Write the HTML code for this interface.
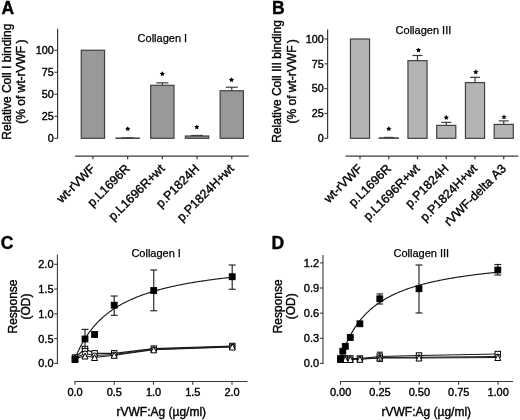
<!DOCTYPE html>
<html><head><meta charset="utf-8"><style>
html,body{margin:0;padding:0;background:#fff;}
svg{display:block;filter:blur(0.3px);font-family:"Liberation Sans",sans-serif;}
text{stroke:#000;stroke-width:0.38px;font-kerning:none;}
</style></head><body>
<svg width="520" height="420" viewBox="0 0 520 420">
<rect width="520" height="420" fill="#fff"/>
<text x="1.60" y="14.00" font-size="17.5" font-weight="bold">A</text>
<text x="271.90" y="14.00" font-size="17.5" font-weight="bold">B</text>
<text x="0.80" y="249.20" font-size="17.5" font-weight="bold">C</text>
<text x="271.60" y="249.20" font-size="17.5" font-weight="bold">D</text>
<line x1="57.60" y1="28.75" x2="57.60" y2="138.60" stroke="#3a3a3a" stroke-width="1.2"/>
<line x1="54.40" y1="138.30" x2="57.60" y2="138.30" stroke="#3a3a3a" stroke-width="1.1"/>
<text x="53.70" y="142.05" font-size="10.75" text-anchor="end">0</text>
<line x1="54.40" y1="116.29" x2="57.60" y2="116.29" stroke="#3a3a3a" stroke-width="1.1"/>
<text x="53.70" y="120.04" font-size="10.75" text-anchor="end">25</text>
<line x1="54.40" y1="94.28" x2="57.60" y2="94.28" stroke="#3a3a3a" stroke-width="1.1"/>
<text x="53.70" y="98.03" font-size="10.75" text-anchor="end">50</text>
<line x1="54.40" y1="72.26" x2="57.60" y2="72.26" stroke="#3a3a3a" stroke-width="1.1"/>
<text x="53.70" y="76.01" font-size="10.75" text-anchor="end">75</text>
<line x1="54.40" y1="50.25" x2="57.60" y2="50.25" stroke="#3a3a3a" stroke-width="1.1"/>
<text x="53.70" y="54.00" font-size="10.75" text-anchor="end">100</text>
<rect x="81.25" y="50.25" width="23.30" height="88.05" fill="#999999" stroke="#404040" stroke-width="1.2"/>
<line x1="127.62" y1="137.77" x2="127.62" y2="138.04" stroke="#3a3a3a" stroke-width="1.2"/>
<line x1="121.62" y1="137.77" x2="133.62" y2="137.77" stroke="#3a3a3a" stroke-width="1.2"/>
<rect x="115.97" y="138.04" width="23.30" height="0.30" fill="#999999" stroke="#404040" stroke-width="1.2"/>
<line x1="162.34" y1="82.83" x2="162.34" y2="85.29" stroke="#3a3a3a" stroke-width="1.2"/>
<line x1="156.34" y1="82.83" x2="168.34" y2="82.83" stroke="#3a3a3a" stroke-width="1.2"/>
<rect x="150.69" y="85.29" width="23.30" height="53.01" fill="#999999" stroke="#404040" stroke-width="1.2"/>
<line x1="197.06" y1="135.48" x2="197.06" y2="136.01" stroke="#3a3a3a" stroke-width="1.2"/>
<line x1="191.06" y1="135.48" x2="203.06" y2="135.48" stroke="#3a3a3a" stroke-width="1.2"/>
<rect x="185.41" y="136.01" width="23.30" height="2.29" fill="#999999" stroke="#404040" stroke-width="1.2"/>
<line x1="231.78" y1="87.23" x2="231.78" y2="90.75" stroke="#3a3a3a" stroke-width="1.2"/>
<line x1="225.78" y1="87.23" x2="237.78" y2="87.23" stroke="#3a3a3a" stroke-width="1.2"/>
<rect x="220.13" y="90.75" width="23.30" height="47.55" fill="#999999" stroke="#404040" stroke-width="1.2"/>
<polygon points="127.75,126.15 128.56,127.79 130.37,128.05 129.06,129.32 129.37,131.12 127.75,130.28 126.13,131.12 126.44,129.32 125.13,128.05 126.94,127.79" fill="#000"/>
<polygon points="162.30,71.15 163.11,72.79 164.92,73.05 163.61,74.32 163.92,76.12 162.30,75.28 160.68,76.12 160.99,74.32 159.68,73.05 161.49,72.79" fill="#000"/>
<polygon points="196.80,124.45 197.61,126.09 199.42,126.35 198.11,127.62 198.42,129.42 196.80,128.57 195.18,129.42 195.49,127.62 194.18,126.35 195.99,126.09" fill="#000"/>
<polygon points="231.50,77.15 232.31,78.79 234.12,79.05 232.81,80.32 233.12,82.12 231.50,81.28 229.88,82.12 230.19,80.32 228.88,79.05 230.69,78.79" fill="#000"/>
<line x1="75.00" y1="156.10" x2="248.70" y2="156.10" stroke="#3a3a3a" stroke-width="1.2"/>
<line x1="92.90" y1="156.10" x2="92.90" y2="159.30" stroke="#3a3a3a" stroke-width="1.2"/>
<text transform="translate(95.90,169.40) rotate(-45)" font-size="12.4" text-anchor="end">wt-rVWF</text>
<line x1="127.62" y1="156.10" x2="127.62" y2="159.30" stroke="#3a3a3a" stroke-width="1.2"/>
<text transform="translate(130.62,169.40) rotate(-45)" font-size="12.4" text-anchor="end">p.L1696R</text>
<line x1="162.34" y1="156.10" x2="162.34" y2="159.30" stroke="#3a3a3a" stroke-width="1.2"/>
<text transform="translate(165.34,169.40) rotate(-45)" font-size="12.4" text-anchor="end">p.L1696R+wt</text>
<line x1="197.06" y1="156.10" x2="197.06" y2="159.30" stroke="#3a3a3a" stroke-width="1.2"/>
<text transform="translate(200.06,169.40) rotate(-45)" font-size="12.4" text-anchor="end">p.P1824H</text>
<line x1="231.78" y1="156.10" x2="231.78" y2="159.30" stroke="#3a3a3a" stroke-width="1.2"/>
<text transform="translate(234.78,169.40) rotate(-45)" font-size="12.4" text-anchor="end">p.P1824H+wt</text>
<text transform="translate(10.80,81.70) rotate(-90)" font-size="12" text-anchor="middle">Relative Coll I binding</text>
<text transform="translate(25.40,81.70) rotate(-90)" font-size="12" text-anchor="middle">(% of wt-rVWF<tspan dx="2.2">)</tspan></text>
<text x="137.60" y="41.60" font-size="11" style="stroke-width:0.25px">Collagen I</text>
<line x1="327.60" y1="29.50" x2="327.60" y2="138.60" stroke="#3a3a3a" stroke-width="1.2"/>
<line x1="324.40" y1="138.30" x2="327.60" y2="138.30" stroke="#3a3a3a" stroke-width="1.1"/>
<text x="323.70" y="142.05" font-size="10.75" text-anchor="end">0</text>
<line x1="324.40" y1="113.48" x2="327.60" y2="113.48" stroke="#3a3a3a" stroke-width="1.1"/>
<text x="323.70" y="117.23" font-size="10.75" text-anchor="end">25</text>
<line x1="324.40" y1="88.65" x2="327.60" y2="88.65" stroke="#3a3a3a" stroke-width="1.1"/>
<text x="323.70" y="92.40" font-size="10.75" text-anchor="end">50</text>
<line x1="324.40" y1="63.83" x2="327.60" y2="63.83" stroke="#3a3a3a" stroke-width="1.1"/>
<text x="323.70" y="67.58" font-size="10.75" text-anchor="end">75</text>
<line x1="324.40" y1="39.00" x2="327.60" y2="39.00" stroke="#3a3a3a" stroke-width="1.1"/>
<text x="323.70" y="42.75" font-size="10.75" text-anchor="end">100</text>
<rect x="350.45" y="39.00" width="19.10" height="99.30" fill="#b4b4b4" stroke="#404040" stroke-width="1.2"/>
<line x1="388.75" y1="137.41" x2="388.75" y2="137.90" stroke="#3a3a3a" stroke-width="1.2"/>
<line x1="383.75" y1="137.41" x2="393.75" y2="137.41" stroke="#3a3a3a" stroke-width="1.2"/>
<rect x="379.20" y="137.90" width="19.10" height="0.40" fill="#b4b4b4" stroke="#404040" stroke-width="1.2"/>
<line x1="417.50" y1="55.48" x2="417.50" y2="60.65" stroke="#3a3a3a" stroke-width="1.2"/>
<line x1="412.50" y1="55.48" x2="422.50" y2="55.48" stroke="#3a3a3a" stroke-width="1.2"/>
<rect x="407.95" y="60.65" width="19.10" height="77.65" fill="#b4b4b4" stroke="#404040" stroke-width="1.2"/>
<line x1="446.25" y1="122.41" x2="446.25" y2="125.39" stroke="#3a3a3a" stroke-width="1.2"/>
<line x1="441.25" y1="122.41" x2="451.25" y2="122.41" stroke="#3a3a3a" stroke-width="1.2"/>
<rect x="436.70" y="125.39" width="19.10" height="12.91" fill="#b4b4b4" stroke="#404040" stroke-width="1.2"/>
<line x1="475.00" y1="77.33" x2="475.00" y2="82.59" stroke="#3a3a3a" stroke-width="1.2"/>
<line x1="470.00" y1="77.33" x2="480.00" y2="77.33" stroke="#3a3a3a" stroke-width="1.2"/>
<rect x="465.45" y="82.59" width="19.10" height="55.71" fill="#b4b4b4" stroke="#404040" stroke-width="1.2"/>
<line x1="503.75" y1="120.92" x2="503.75" y2="124.40" stroke="#3a3a3a" stroke-width="1.2"/>
<line x1="498.75" y1="120.92" x2="508.75" y2="120.92" stroke="#3a3a3a" stroke-width="1.2"/>
<rect x="494.20" y="124.40" width="19.10" height="13.90" fill="#b4b4b4" stroke="#404040" stroke-width="1.2"/>
<polygon points="388.80,126.15 389.61,127.79 391.42,128.05 390.11,129.32 390.42,131.12 388.80,130.28 387.18,131.12 387.49,129.32 386.18,128.05 387.99,127.79" fill="#000"/>
<polygon points="418.50,47.45 419.31,49.09 421.12,49.35 419.81,50.62 420.12,52.42 418.50,51.58 416.88,52.42 417.19,50.62 415.88,49.35 417.69,49.09" fill="#000"/>
<polygon points="446.30,114.85 447.11,116.49 448.92,116.75 447.61,118.02 447.92,119.82 446.30,118.97 444.68,119.82 444.99,118.02 443.68,116.75 445.49,116.49" fill="#000"/>
<polygon points="475.80,69.25 476.61,70.89 478.42,71.15 477.11,72.42 477.42,74.22 475.80,73.38 474.18,74.22 474.49,72.42 473.18,71.15 474.99,70.89" fill="#000"/>
<polygon points="504.00,114.25 504.81,115.89 506.62,116.15 505.31,117.42 505.62,119.22 504.00,118.38 502.38,119.22 502.69,117.42 501.38,116.15 503.19,115.89" fill="#000"/>
<line x1="345.60" y1="156.10" x2="518.20" y2="156.10" stroke="#3a3a3a" stroke-width="1.2"/>
<line x1="360.00" y1="156.10" x2="360.00" y2="159.30" stroke="#3a3a3a" stroke-width="1.2"/>
<text transform="translate(363.00,169.40) rotate(-45)" font-size="12.4" text-anchor="end">wt-rVWF</text>
<line x1="388.75" y1="156.10" x2="388.75" y2="159.30" stroke="#3a3a3a" stroke-width="1.2"/>
<text transform="translate(391.75,169.40) rotate(-45)" font-size="12.4" text-anchor="end">p.L1696R</text>
<line x1="417.50" y1="156.10" x2="417.50" y2="159.30" stroke="#3a3a3a" stroke-width="1.2"/>
<text transform="translate(420.50,169.40) rotate(-45)" font-size="12.4" text-anchor="end">p.L1696R+wt</text>
<line x1="446.25" y1="156.10" x2="446.25" y2="159.30" stroke="#3a3a3a" stroke-width="1.2"/>
<text transform="translate(449.25,169.40) rotate(-45)" font-size="12.4" text-anchor="end">p.P1824H</text>
<line x1="475.00" y1="156.10" x2="475.00" y2="159.30" stroke="#3a3a3a" stroke-width="1.2"/>
<text transform="translate(478.00,169.40) rotate(-45)" font-size="12.4" text-anchor="end">p.P1824H+wt</text>
<line x1="503.75" y1="156.10" x2="503.75" y2="159.30" stroke="#3a3a3a" stroke-width="1.2"/>
<text transform="translate(506.75,169.40) rotate(-45)" font-size="12.4" text-anchor="end">rVWF-delta A3</text>
<text transform="translate(281.00,81.40) rotate(-90)" font-size="12" text-anchor="middle">Relative Coll III binding</text>
<text transform="translate(295.60,81.40) rotate(-90)" font-size="12" text-anchor="middle">(% of wt-rVWF<tspan dx="2.2">)</tspan></text>
<text x="395.60" y="33.60" font-size="11" style="stroke-width:0.25px">Collagen III</text>
<line x1="57.40" y1="254.60" x2="57.40" y2="363.90" stroke="#3a3a3a" stroke-width="1.1"/>
<line x1="54.20" y1="363.40" x2="57.40" y2="363.40" stroke="#3a3a3a" stroke-width="1.1"/>
<text x="53.50" y="367.30" font-size="11" text-anchor="end">0.0</text>
<line x1="54.20" y1="338.62" x2="57.40" y2="338.62" stroke="#3a3a3a" stroke-width="1.1"/>
<text x="53.50" y="342.52" font-size="11" text-anchor="end">0.5</text>
<line x1="54.20" y1="313.85" x2="57.40" y2="313.85" stroke="#3a3a3a" stroke-width="1.1"/>
<text x="53.50" y="317.75" font-size="11" text-anchor="end">1.0</text>
<line x1="54.20" y1="289.07" x2="57.40" y2="289.07" stroke="#3a3a3a" stroke-width="1.1"/>
<text x="53.50" y="292.97" font-size="11" text-anchor="end">1.5</text>
<line x1="54.20" y1="264.30" x2="57.40" y2="264.30" stroke="#3a3a3a" stroke-width="1.1"/>
<text x="53.50" y="268.20" font-size="11" text-anchor="end">2.0</text>
<line x1="74.50" y1="381.50" x2="247.50" y2="381.50" stroke="#3a3a3a" stroke-width="1.1"/>
<line x1="75.00" y1="381.50" x2="75.00" y2="384.70" stroke="#3a3a3a" stroke-width="1.1"/>
<text x="75.10" y="395.50" font-size="11" text-anchor="middle">0.0</text>
<line x1="114.25" y1="381.50" x2="114.25" y2="384.70" stroke="#3a3a3a" stroke-width="1.1"/>
<text x="114.35" y="395.50" font-size="11" text-anchor="middle">0.5</text>
<line x1="153.50" y1="381.50" x2="153.50" y2="384.70" stroke="#3a3a3a" stroke-width="1.1"/>
<text x="153.60" y="395.50" font-size="11" text-anchor="middle">1.0</text>
<line x1="192.75" y1="381.50" x2="192.75" y2="384.70" stroke="#3a3a3a" stroke-width="1.1"/>
<text x="192.85" y="395.50" font-size="11" text-anchor="middle">1.5</text>
<line x1="232.00" y1="381.50" x2="232.00" y2="384.70" stroke="#3a3a3a" stroke-width="1.1"/>
<text x="232.10" y="395.50" font-size="11" text-anchor="middle">2.0</text>
<text x="131.40" y="257.00" font-size="11" style="stroke-width:0.25px">Collagen I</text>
<text transform="translate(16.50,306.50) rotate(-90)" font-size="12" text-anchor="middle">Response</text>
<text transform="translate(30.40,306.50) rotate(-90)" font-size="12" text-anchor="middle">(OD)</text>
<text x="116.50" y="415.80" font-size="12">rVWF:Ag (&#181;g/ml)</text>
<polyline points="75.00,358.54 75.79,356.63 76.58,354.79 77.37,353.01 78.16,351.30 78.94,349.65 79.73,348.05 80.52,346.51 81.31,345.02 82.10,343.58 82.89,342.18 83.68,340.82 84.47,339.51 85.26,338.24 86.05,337.00 86.83,335.80 87.62,334.64 88.41,333.51 89.20,332.41 89.99,331.34 90.78,330.30 91.57,329.29 92.36,328.31 93.15,327.35 93.93,326.42 94.72,325.51 95.51,324.62 96.30,323.76 97.09,322.92 97.88,322.10 98.67,321.29 99.46,320.51 100.25,319.75 101.04,319.00 101.82,318.27 102.61,317.56 103.40,316.86 104.19,316.18 104.98,315.51 105.77,314.86 106.56,314.22 107.35,313.60 108.14,312.99 108.92,312.39 109.71,311.80 110.50,311.23 111.29,310.67 112.08,310.12 112.87,309.58 113.66,309.05 114.45,308.53 115.24,308.02 116.03,307.52 116.81,307.03 117.60,306.55 118.39,306.07 119.18,305.61 119.97,305.16 120.76,304.71 121.55,304.27 122.34,303.84 123.13,303.41 123.91,303.00 124.70,302.59 125.49,302.19 126.28,301.79 127.07,301.40 127.86,301.02 128.65,300.65 129.44,300.28 130.23,299.91 131.02,299.56 131.80,299.20 132.59,298.86 133.38,298.52 134.17,298.18 134.96,297.85 135.75,297.52 136.54,297.20 137.33,296.89 138.12,296.58 138.90,296.27 139.69,295.97 140.48,295.67 141.27,295.38 142.06,295.09 142.85,294.81 143.64,294.53 144.43,294.25 145.22,293.98 146.01,293.71 146.79,293.44 147.58,293.18 148.37,292.93 149.16,292.67 149.95,292.42 150.74,292.17 151.53,291.93 152.32,291.69 153.11,291.45 153.89,291.22 154.68,290.99 155.47,290.76 156.26,290.53 157.05,290.31 157.84,290.09 158.63,289.87 159.42,289.66 160.21,289.45 160.99,289.24 161.78,289.03 162.57,288.83 163.36,288.62 164.15,288.42 164.94,288.23 165.73,288.03 166.52,287.84 167.31,287.65 168.10,287.46 168.88,287.28 169.67,287.10 170.46,286.91 171.25,286.74 172.04,286.56 172.83,286.38 173.62,286.21 174.41,286.04 175.20,285.87 175.98,285.70 176.77,285.54 177.56,285.37 178.35,285.21 179.14,285.05 179.93,284.89 180.72,284.74 181.51,284.58 182.30,284.43 183.09,284.27 183.87,284.12 184.66,283.98 185.45,283.83 186.24,283.68 187.03,283.54 187.82,283.40 188.61,283.26 189.40,283.12 190.19,282.98 190.97,282.84 191.76,282.70 192.55,282.57 193.34,282.44 194.13,282.31 194.92,282.17 195.71,282.05 196.50,281.92 197.29,281.79 198.08,281.67 198.86,281.54 199.65,281.42 200.44,281.30 201.23,281.18 202.02,281.06 202.81,280.94 203.60,280.82 204.39,280.70 205.18,280.59 205.96,280.47 206.75,280.36 207.54,280.25 208.33,280.14 209.12,280.03 209.91,279.92 210.70,279.81 211.49,279.70 212.28,279.60 213.07,279.49 213.85,279.39 214.64,279.28 215.43,279.18 216.22,279.08 217.01,278.98 217.80,278.88 218.59,278.78 219.38,278.68 220.17,278.58 220.95,278.49 221.74,278.39 222.53,278.30 223.32,278.20 224.11,278.11 224.90,278.02 225.69,277.92 226.48,277.83 227.27,277.74 228.06,277.65 228.84,277.56 229.63,277.47 230.42,277.39 231.21,277.30 232.00,277.21" fill="none" stroke="#1a1a1a" stroke-width="1.15"/>
<polyline points="75.00,357.50 85.00,349.00 94.60,353.30 114.20,353.30 153.75,348.60 232.30,346.00" fill="none" stroke="#1a1a1a" stroke-width="1.15"/>
<polyline points="75.00,358.00 85.00,353.50 94.60,355.50 114.20,354.50 153.75,349.30 232.30,346.60" fill="none" stroke="#1a1a1a" stroke-width="1.15"/>
<polyline points="75.00,358.50 85.00,356.00 94.60,357.50 114.20,355.30 153.75,349.80 232.30,347.00" fill="none" stroke="#1a1a1a" stroke-width="1.15"/>
<rect x="72.30" y="354.80" width="5.40" height="5.40" fill="white" stroke="#000" stroke-width="1"/>
<rect x="82.30" y="346.30" width="5.40" height="5.40" fill="white" stroke="#000" stroke-width="1"/>
<rect x="91.90" y="350.60" width="5.40" height="5.40" fill="white" stroke="#000" stroke-width="1"/>
<rect x="111.50" y="350.60" width="5.40" height="5.40" fill="white" stroke="#000" stroke-width="1"/>
<rect x="151.05" y="345.90" width="5.40" height="5.40" fill="white" stroke="#000" stroke-width="1"/>
<rect x="229.60" y="343.30" width="5.40" height="5.40" fill="white" stroke="#000" stroke-width="1"/>
<circle cx="75.00" cy="358.00" r="2.5" fill="white" stroke="#000" stroke-width="1"/>
<circle cx="85.00" cy="353.50" r="2.5" fill="white" stroke="#000" stroke-width="1"/>
<circle cx="94.60" cy="355.50" r="2.5" fill="white" stroke="#000" stroke-width="1"/>
<circle cx="114.20" cy="354.50" r="2.5" fill="white" stroke="#000" stroke-width="1"/>
<circle cx="153.75" cy="349.30" r="2.5" fill="white" stroke="#000" stroke-width="1"/>
<circle cx="232.30" cy="346.60" r="2.5" fill="white" stroke="#000" stroke-width="1"/>
<polygon points="75.00,355.50 78.00,361.50 72.00,361.50" fill="white" stroke="#000" stroke-width="1"/>
<polygon points="85.00,353.00 88.00,359.00 82.00,359.00" fill="white" stroke="#000" stroke-width="1"/>
<polygon points="94.60,354.50 97.60,360.50 91.60,360.50" fill="white" stroke="#000" stroke-width="1"/>
<polygon points="114.20,352.30 117.20,358.30 111.20,358.30" fill="white" stroke="#000" stroke-width="1"/>
<polygon points="153.75,346.80 156.75,352.80 150.75,352.80" fill="white" stroke="#000" stroke-width="1"/>
<polygon points="232.30,344.00 235.30,350.00 229.30,350.00" fill="white" stroke="#000" stroke-width="1"/>
<line x1="85.00" y1="329.40" x2="85.00" y2="348.60" stroke="#222" stroke-width="1.15"/>
<line x1="81.50" y1="329.40" x2="88.50" y2="329.40" stroke="#222" stroke-width="1.15"/>
<line x1="81.50" y1="348.60" x2="88.50" y2="348.60" stroke="#222" stroke-width="1.15"/>
<line x1="114.20" y1="296.00" x2="114.20" y2="315.30" stroke="#222" stroke-width="1.15"/>
<line x1="110.70" y1="296.00" x2="117.70" y2="296.00" stroke="#222" stroke-width="1.15"/>
<line x1="110.70" y1="315.30" x2="117.70" y2="315.30" stroke="#222" stroke-width="1.15"/>
<line x1="153.75" y1="270.00" x2="153.75" y2="310.75" stroke="#222" stroke-width="1.15"/>
<line x1="150.25" y1="270.00" x2="157.25" y2="270.00" stroke="#222" stroke-width="1.15"/>
<line x1="150.25" y1="310.75" x2="157.25" y2="310.75" stroke="#222" stroke-width="1.15"/>
<line x1="232.20" y1="265.00" x2="232.20" y2="289.25" stroke="#222" stroke-width="1.15"/>
<line x1="228.70" y1="265.00" x2="235.70" y2="265.00" stroke="#222" stroke-width="1.15"/>
<line x1="228.70" y1="289.25" x2="235.70" y2="289.25" stroke="#222" stroke-width="1.15"/>
<rect x="72.10" y="356.70" width="5.80" height="5.80" fill="#000" stroke="#000" stroke-width="1"/>
<rect x="82.10" y="336.10" width="5.80" height="5.80" fill="#000" stroke="#000" stroke-width="1"/>
<rect x="91.70" y="331.60" width="5.80" height="5.80" fill="#000" stroke="#000" stroke-width="1"/>
<rect x="111.30" y="302.30" width="5.80" height="5.80" fill="#000" stroke="#000" stroke-width="1"/>
<rect x="150.85" y="287.60" width="5.80" height="5.80" fill="#000" stroke="#000" stroke-width="1"/>
<rect x="229.30" y="273.85" width="5.80" height="5.80" fill="#000" stroke="#000" stroke-width="1"/>
<line x1="323.00" y1="254.90" x2="323.00" y2="363.90" stroke="#3a3a3a" stroke-width="1.1"/>
<line x1="319.80" y1="363.40" x2="323.00" y2="363.40" stroke="#3a3a3a" stroke-width="1.1"/>
<text x="319.10" y="367.30" font-size="11" text-anchor="end">0.0</text>
<line x1="319.80" y1="338.27" x2="323.00" y2="338.27" stroke="#3a3a3a" stroke-width="1.1"/>
<text x="319.10" y="342.17" font-size="11" text-anchor="end">0.3</text>
<line x1="319.80" y1="313.15" x2="323.00" y2="313.15" stroke="#3a3a3a" stroke-width="1.1"/>
<text x="319.10" y="317.05" font-size="11" text-anchor="end">0.6</text>
<line x1="319.80" y1="288.02" x2="323.00" y2="288.02" stroke="#3a3a3a" stroke-width="1.1"/>
<text x="319.10" y="291.92" font-size="11" text-anchor="end">0.9</text>
<line x1="319.80" y1="262.90" x2="323.00" y2="262.90" stroke="#3a3a3a" stroke-width="1.1"/>
<text x="319.10" y="266.80" font-size="11" text-anchor="end">1.2</text>
<line x1="340.00" y1="381.50" x2="513.00" y2="381.50" stroke="#3a3a3a" stroke-width="1.1"/>
<line x1="340.50" y1="381.50" x2="340.50" y2="384.70" stroke="#3a3a3a" stroke-width="1.1"/>
<text x="340.60" y="395.50" font-size="11" text-anchor="middle">0.00</text>
<line x1="379.88" y1="381.50" x2="379.88" y2="384.70" stroke="#3a3a3a" stroke-width="1.1"/>
<text x="379.98" y="395.50" font-size="11" text-anchor="middle">0.25</text>
<line x1="419.25" y1="381.50" x2="419.25" y2="384.70" stroke="#3a3a3a" stroke-width="1.1"/>
<text x="419.35" y="395.50" font-size="11" text-anchor="middle">0.50</text>
<line x1="458.62" y1="381.50" x2="458.62" y2="384.70" stroke="#3a3a3a" stroke-width="1.1"/>
<text x="458.73" y="395.50" font-size="11" text-anchor="middle">0.75</text>
<line x1="498.00" y1="381.50" x2="498.00" y2="384.70" stroke="#3a3a3a" stroke-width="1.1"/>
<text x="498.10" y="395.50" font-size="11" text-anchor="middle">1.00</text>
<text x="393.50" y="257.00" font-size="11" style="stroke-width:0.25px">Collagen III</text>
<text transform="translate(282.30,306.30) rotate(-90)" font-size="12" text-anchor="middle">Response</text>
<text transform="translate(295.30,306.30) rotate(-90)" font-size="12" text-anchor="middle">(OD)</text>
<text x="381.50" y="415.80" font-size="12">rVWF:Ag (&#181;g/ml)</text>
<polyline points="340.50,359.36 341.29,356.93 342.08,354.60 342.87,352.38 343.67,350.25 344.46,348.22 345.25,346.26 346.04,344.39 346.83,342.59 347.62,340.86 348.41,339.20 349.21,337.59 350.00,336.05 350.79,334.56 351.58,333.13 352.37,331.75 353.16,330.41 353.95,329.12 354.75,327.87 355.54,326.66 356.33,325.49 357.12,324.35 357.91,323.26 358.70,322.19 359.49,321.16 360.29,320.16 361.08,319.19 361.87,318.24 362.66,317.32 363.45,316.43 364.24,315.56 365.04,314.72 365.83,313.90 366.62,313.10 367.41,312.32 368.20,311.56 368.99,310.82 369.78,310.10 370.58,309.40 371.37,308.72 372.16,308.05 372.95,307.40 373.74,306.76 374.53,306.14 375.32,305.53 376.12,304.93 376.91,304.35 377.70,303.79 378.49,303.23 379.28,302.69 380.07,302.16 380.86,301.64 381.66,301.13 382.45,300.63 383.24,300.14 384.03,299.67 384.82,299.20 385.61,298.74 386.40,298.29 387.20,297.85 387.99,297.42 388.78,296.99 389.57,296.58 390.36,296.17 391.15,295.77 391.94,295.38 392.74,294.99 393.53,294.62 394.32,294.24 395.11,293.88 395.90,293.52 396.69,293.17 397.48,292.82 398.28,292.48 399.07,292.15 399.86,291.82 400.65,291.50 401.44,291.18 402.23,290.87 403.03,290.56 403.82,290.26 404.61,289.96 405.40,289.67 406.19,289.38 406.98,289.10 407.77,288.82 408.57,288.55 409.36,288.28 410.15,288.01 410.94,287.75 411.73,287.49 412.52,287.24 413.31,286.99 414.11,286.74 414.90,286.50 415.69,286.26 416.48,286.02 417.27,285.79 418.06,285.56 418.85,285.34 419.65,285.11 420.44,284.89 421.23,284.68 422.02,284.46 422.81,284.25 423.60,284.05 424.39,283.84 425.19,283.64 425.98,283.44 426.77,283.24 427.56,283.05 428.35,282.85 429.14,282.67 429.93,282.48 430.73,282.29 431.52,282.11 432.31,281.93 433.10,281.75 433.89,281.58 434.68,281.40 435.47,281.23 436.27,281.06 437.06,280.90 437.85,280.73 438.64,280.57 439.43,280.41 440.22,280.25 441.02,280.09 441.81,279.94 442.60,279.78 443.39,279.63 444.18,279.48 444.97,279.33 445.76,279.19 446.56,279.04 447.35,278.90 448.14,278.76 448.93,278.62 449.72,278.48 450.51,278.34 451.30,278.20 452.10,278.07 452.89,277.94 453.68,277.81 454.47,277.68 455.26,277.55 456.05,277.42 456.84,277.30 457.64,277.17 458.43,277.05 459.22,276.93 460.01,276.81 460.80,276.69 461.59,276.57 462.38,276.45 463.18,276.34 463.97,276.22 464.76,276.11 465.55,276.00 466.34,275.88 467.13,275.77 467.92,275.66 468.72,275.56 469.51,275.45 470.30,275.34 471.09,275.24 471.88,275.14 472.67,275.03 473.46,274.93 474.26,274.83 475.05,274.73 475.84,274.63 476.63,274.53 477.42,274.44 478.21,274.34 479.01,274.24 479.80,274.15 480.59,274.06 481.38,273.96 482.17,273.87 482.96,273.78 483.75,273.69 484.55,273.60 485.34,273.51 486.13,273.42 486.92,273.34 487.71,273.25 488.50,273.16 489.29,273.08 490.09,273.00 490.88,272.91 491.67,272.83 492.46,272.75 493.25,272.67 494.04,272.59 494.83,272.51 495.63,272.43 496.42,272.35 497.21,272.27 498.00,272.19" fill="none" stroke="#1a1a1a" stroke-width="1.15"/>
<polyline points="340.50,358.50 342.90,358.50 345.30,358.50 350.30,358.50 359.90,358.50 379.80,356.50 419.00,355.50 497.80,354.00" fill="none" stroke="#1a1a1a" stroke-width="1.15"/>
<polyline points="340.50,359.00 342.90,359.00 345.30,359.00 350.30,359.00 359.90,359.00 379.80,357.50 419.00,357.30 497.80,356.50" fill="none" stroke="#1a1a1a" stroke-width="1.15"/>
<polyline points="340.50,359.50 342.90,359.50 345.30,359.50 350.30,359.50 359.90,359.30 379.80,358.00 419.00,358.00 497.80,357.50" fill="none" stroke="#1a1a1a" stroke-width="1.15"/>
<rect x="337.80" y="355.80" width="5.40" height="5.40" fill="white" stroke="#000" stroke-width="1"/>
<rect x="340.20" y="355.80" width="5.40" height="5.40" fill="white" stroke="#000" stroke-width="1"/>
<rect x="342.60" y="355.80" width="5.40" height="5.40" fill="white" stroke="#000" stroke-width="1"/>
<rect x="347.60" y="355.80" width="5.40" height="5.40" fill="white" stroke="#000" stroke-width="1"/>
<rect x="357.20" y="355.80" width="5.40" height="5.40" fill="white" stroke="#000" stroke-width="1"/>
<rect x="377.10" y="353.80" width="5.40" height="5.40" fill="white" stroke="#000" stroke-width="1"/>
<rect x="416.30" y="352.80" width="5.40" height="5.40" fill="white" stroke="#000" stroke-width="1"/>
<rect x="495.10" y="351.30" width="5.40" height="5.40" fill="white" stroke="#000" stroke-width="1"/>
<circle cx="340.50" cy="359.00" r="2.5" fill="white" stroke="#000" stroke-width="1"/>
<circle cx="342.90" cy="359.00" r="2.5" fill="white" stroke="#000" stroke-width="1"/>
<circle cx="345.30" cy="359.00" r="2.5" fill="white" stroke="#000" stroke-width="1"/>
<circle cx="350.30" cy="359.00" r="2.5" fill="white" stroke="#000" stroke-width="1"/>
<circle cx="359.90" cy="359.00" r="2.5" fill="white" stroke="#000" stroke-width="1"/>
<circle cx="379.80" cy="357.50" r="2.5" fill="white" stroke="#000" stroke-width="1"/>
<circle cx="419.00" cy="357.30" r="2.5" fill="white" stroke="#000" stroke-width="1"/>
<circle cx="497.80" cy="356.50" r="2.5" fill="white" stroke="#000" stroke-width="1"/>
<polygon points="340.50,356.50 343.50,362.50 337.50,362.50" fill="white" stroke="#000" stroke-width="1"/>
<polygon points="342.90,356.50 345.90,362.50 339.90,362.50" fill="white" stroke="#000" stroke-width="1"/>
<polygon points="345.30,356.50 348.30,362.50 342.30,362.50" fill="white" stroke="#000" stroke-width="1"/>
<polygon points="350.30,356.50 353.30,362.50 347.30,362.50" fill="white" stroke="#000" stroke-width="1"/>
<polygon points="359.90,356.30 362.90,362.30 356.90,362.30" fill="white" stroke="#000" stroke-width="1"/>
<polygon points="379.80,355.00 382.80,361.00 376.80,361.00" fill="white" stroke="#000" stroke-width="1"/>
<polygon points="419.00,355.00 422.00,361.00 416.00,361.00" fill="white" stroke="#000" stroke-width="1"/>
<polygon points="497.80,354.50 500.80,360.50 494.80,360.50" fill="white" stroke="#000" stroke-width="1"/>
<line x1="379.80" y1="293.90" x2="379.80" y2="304.00" stroke="#222" stroke-width="1.15"/>
<line x1="376.55" y1="293.90" x2="383.05" y2="293.90" stroke="#222" stroke-width="1.15"/>
<line x1="376.55" y1="304.00" x2="383.05" y2="304.00" stroke="#222" stroke-width="1.15"/>
<line x1="419.00" y1="265.00" x2="419.00" y2="313.00" stroke="#222" stroke-width="1.15"/>
<line x1="415.50" y1="265.00" x2="422.50" y2="265.00" stroke="#222" stroke-width="1.15"/>
<line x1="415.50" y1="313.00" x2="422.50" y2="313.00" stroke="#222" stroke-width="1.15"/>
<line x1="497.80" y1="264.50" x2="497.80" y2="275.00" stroke="#222" stroke-width="1.15"/>
<line x1="494.30" y1="264.50" x2="501.30" y2="264.50" stroke="#222" stroke-width="1.15"/>
<line x1="494.30" y1="275.00" x2="501.30" y2="275.00" stroke="#222" stroke-width="1.15"/>
<line x1="379.80" y1="352.20" x2="379.80" y2="361.50" stroke="#222" stroke-width="1.15"/>
<line x1="376.80" y1="352.20" x2="382.80" y2="352.20" stroke="#222" stroke-width="1.15"/>
<line x1="376.80" y1="361.50" x2="382.80" y2="361.50" stroke="#222" stroke-width="1.15"/>
<rect x="337.60" y="356.00" width="5.80" height="5.80" fill="#000" stroke="#000" stroke-width="1"/>
<rect x="339.90" y="348.30" width="5.80" height="5.80" fill="#000" stroke="#000" stroke-width="1"/>
<rect x="342.40" y="343.40" width="5.80" height="5.80" fill="#000" stroke="#000" stroke-width="1"/>
<rect x="347.40" y="334.60" width="5.80" height="5.80" fill="#000" stroke="#000" stroke-width="1"/>
<rect x="357.00" y="320.90" width="5.80" height="5.80" fill="#000" stroke="#000" stroke-width="1"/>
<rect x="376.90" y="295.90" width="5.80" height="5.80" fill="#000" stroke="#000" stroke-width="1"/>
<rect x="416.10" y="285.85" width="5.80" height="5.80" fill="#000" stroke="#000" stroke-width="1"/>
<rect x="494.90" y="267.10" width="5.80" height="5.80" fill="#000" stroke="#000" stroke-width="1"/>
</svg>
</body></html>
